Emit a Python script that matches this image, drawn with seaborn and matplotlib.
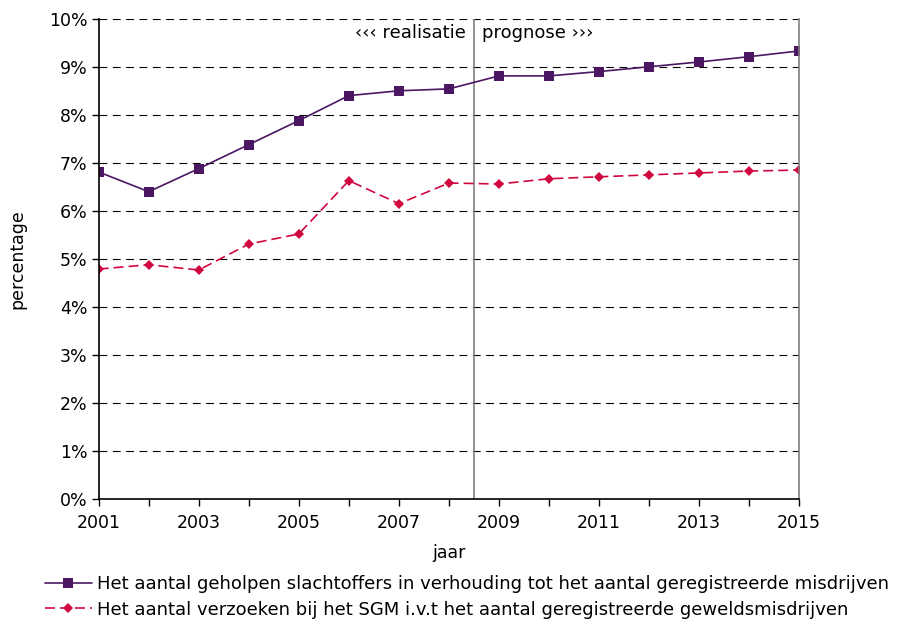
import numpy as np
import pandas as pd
import matplotlib
matplotlib.use("Agg")
import matplotlib.pyplot as plt
import seaborn as sns
from matplotlib.ticker import PercentFormatter

# data
years = list(range(2001, 2016))
geholpen = [6.81, 6.40, 6.88, 7.38, 7.88, 8.40, 8.50, 8.54, 8.81, 8.81, 8.90, 9.00, 9.10, 9.21, 9.33]
verzoeken = [4.79, 4.88, 4.77, 5.31, 5.52, 6.63, 6.15, 6.58, 6.56, 6.67, 6.71, 6.75, 6.79, 6.83, 6.85]
label_geholpen = "Het aantal geholpen slachtoffers in verhouding tot het aantal geregistreerde misdrijven"
label_verzoeken = "Het aantal verzoeken bij het SGM i.v.t het aantal geregistreerde geweldsmisdrijven"
split_year = 2008.5

df = pd.DataFrame({"jaar": years, "geholpen": geholpen, "verzoeken": verzoeken})

sns.set_style("white")
plt.rcParams["font.family"] = ["DejaVu Sans"]
plt.rcParams["text.color"] = "black"
plt.rcParams["axes.labelcolor"] = "black"
plt.rcParams["xtick.color"] = "black"
plt.rcParams["ytick.color"] = "black"

fig = plt.figure(figsize=(8.97, 6.24), dpi=100)
ax = fig.add_axes([0.110, 0.200, 0.781, 0.770])

sns.lineplot(data=df, x="jaar", y="geholpen", ax=ax, color="#4b1762", lw=1.2,
             marker="s", markersize=6.5, markeredgewidth=0, label=label_geholpen)
sns.lineplot(data=df, x="jaar", y="verzoeken", ax=ax, color="#d0083f", lw=1.2,
             marker="D", markersize=5.5, markeredgewidth=0, label=label_verzoeken)
ax.lines[1].set_dashes([6, 3])

ax.set_xlim(2001, 2015)
ax.set_ylim(0, 10)
ax.set_yticks(range(0, 11))
ax.yaxis.set_major_formatter(PercentFormatter(decimals=0))
ax.set_xticks(years)
ax.set_xticklabels([str(y) if (y - 2001) % 2 == 0 else "" for y in years])

for v in range(1, 11):
    ax.axhline(v, color="black", lw=0.8, dashes=(7, 5), zorder=0)
ax.axvline(split_year, color="#808080", lw=1.2, zorder=1)

ax.text(split_year - 0.16, 9.7, "‹‹‹ realisatie", ha="right", va="center", fontsize=13)
ax.text(split_year + 0.16, 9.7, "prognose ›››", ha="left", va="center", fontsize=13)

ax.tick_params(axis="both", direction="out", length=5, width=1, labelsize=12.5,
               left=True, bottom=True, color="black", pad=3)
ax.tick_params(axis="x", pad=6)
for side in ["left", "bottom"]:
    ax.spines[side].set_color("black")
    ax.spines[side].set_linewidth(1.2)
ax.spines["right"].set_color("#808080")
ax.spines["right"].set_linewidth(1.2)
ax.spines["top"].set_visible(False)

ax.set_xlabel("jaar", fontsize=12.5, labelpad=8)
ax.set_ylabel("percentage", fontsize=12.5, labelpad=16)

handles, labels = ax.get_legend_handles_labels()
ax.get_legend().remove()
fig.legend(handles, labels, loc="upper left", bbox_to_anchor=(0.042, 0.09),
           frameon=False, fontsize=13, handlelength=2.6, handletextpad=0.3,
           labelspacing=0.42, borderaxespad=0)

fig.savefig("out.png", dpi=100)
